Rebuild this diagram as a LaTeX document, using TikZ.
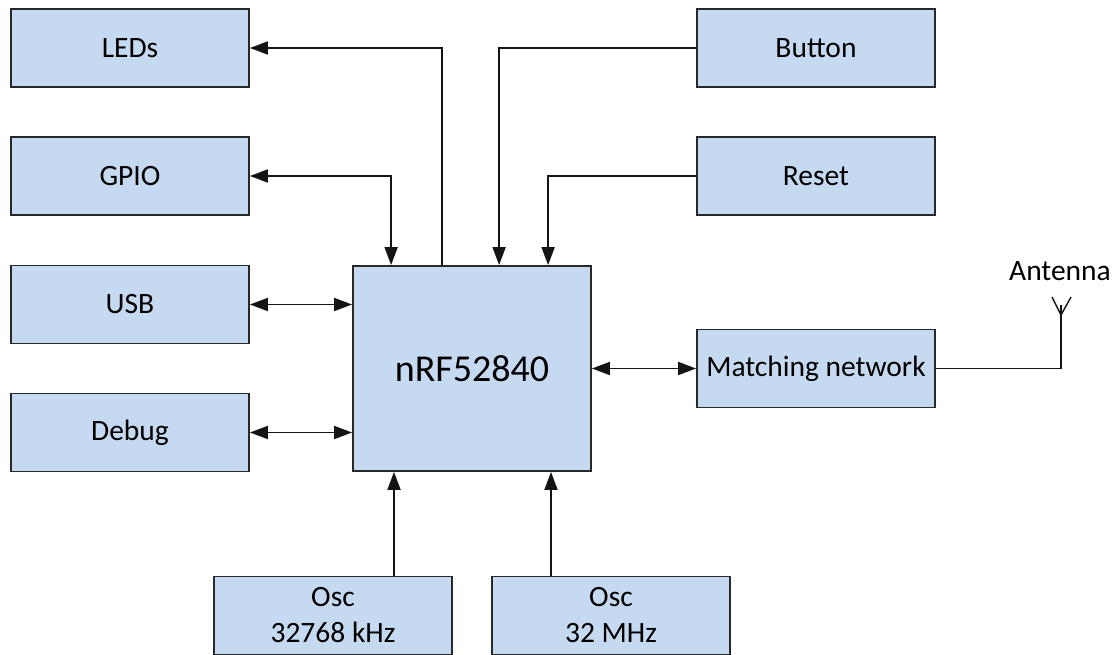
\documentclass[tikz,border=0pt]{standalone}
\usepackage{fontspec}
\setmainfont{Carlito}
\usetikzlibrary{arrows.meta,calc}
\definecolor{boxfill}{RGB}{197,218,240}
\definecolor{boxline}{RGB}{40,40,40}
\definecolor{wire}{RGB}{20,20,20}
\tikzset{
  blk/.style={draw=boxline,fill=boxfill,line width=1.8pt,inner sep=0pt,
    minimum width=238pt,minimum height=78pt,align=center,
    font=\fontsize{29.5}{36}\selectfont},
  wire/.style={draw=wire,line width=1.8pt},
  arr/.style={wire,-{Triangle[length=18pt,width=13pt]}},
  biarr/.style={wire,{Triangle[length=18pt,width=13pt]}-{Triangle[length=18pt,width=13pt]}}
}
\begin{document}
\begin{tikzpicture}[x=1pt,y=-1pt]
\useasboundingbox (0,0) rectangle (1117,655);
\node[blk] (leds) at (130,48) {LEDs};
\node[blk] (gpio) at (130,176) {GPIO};
\node[blk] (usb) at (130,304.5) {USB};
\node[blk] (debug) at (130,432.5) {Debug};
\node[blk,minimum height=205pt,font=\fontsize{38}{44}\selectfont] (main) at (472,368.5) {nRF52840};
\node[blk] (button) at (816,48) {Button};
\node[blk] (reset) at (816,176) {Reset};
\node[blk] (match) at (816,368.5) {Matching network};
\node[blk] (osc1) at (333,615.5) {Osc\\32768 kHz};
\node[blk] (osc2) at (611,615.5) {Osc\\32 MHz};
\node[font=\fontsize{29.5}{36}\selectfont,inner sep=0pt,anchor=base] (anttext) at (1060,280) {Antenna};
\coordinate (ant) at (1061,315);
% connectors
\draw[arr] ([xshift=90pt]main.north west) |- (leds.east);
\draw[biarr] (gpio.east) -| ([xshift=39pt]main.north west);
\draw[biarr] (usb.east) -- (usb.east -| main.west);
\draw[biarr] (debug.east) -- (debug.east -| main.west);
\draw[arr] (button.west) -| ([xshift=147pt]main.north west);
\draw[arr] (reset.west) -| ([xshift=196pt]main.north west);
\draw[biarr] (main.east |- match.west) -- (match.west);
\draw[arr] ([xshift=61pt]osc1.north) -- ([xshift=61pt]osc1.north |- main.south);
\draw[arr] ([xshift=-60pt]osc2.north) -- ([xshift=-60pt]osc2.north |- main.south);
% antenna
\draw[wire,line width=1.6pt] (match.east) -| (ant) -- ++(0,-10);
\draw[wire,line width=1.4pt] ($(ant)+(-9,-18)$) -- (ant) -- ($(ant)+(10,-18)$);
\end{tikzpicture}
\end{document}
